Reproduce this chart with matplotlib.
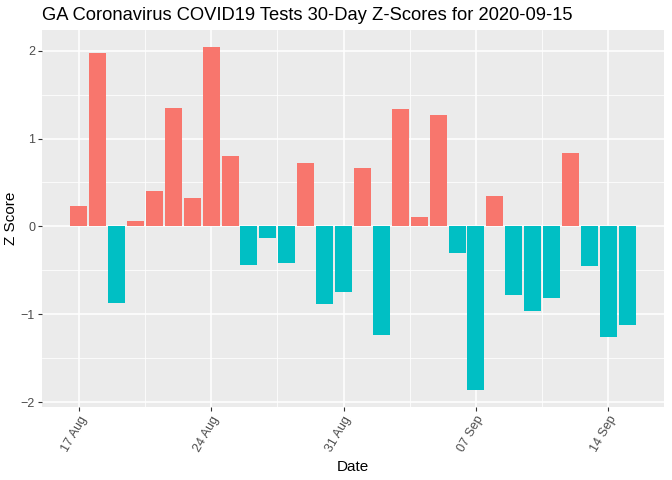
import numpy as np
import pandas as pd
import matplotlib
matplotlib.use("Agg")
import matplotlib.pyplot as plt
import matplotlib.dates as mdates

plt.rcParams['font.family'] = ['Liberation Sans', 'DejaVu Sans']

dates = pd.date_range("2020-08-17", "2020-09-15", freq="D")
zscores = [0.23, 1.97, -0.87, 0.06, 0.40, 1.35, 0.32, 2.04, 0.80, -0.44,
           -0.13, -0.42, 0.72, -0.88, -0.75, 0.66, -1.23, 1.34, 0.11, 1.27,
           -0.30, -1.86, 0.35, -0.78, -0.96, -0.82, 0.84, -0.45, -1.26, -1.12]
tick_dates = pd.to_datetime(["2020-08-17", "2020-08-24", "2020-08-31",
                             "2020-09-07", "2020-09-14"])
title = "GA Coronavirus COVID19 Tests 30-Day Z-Scores for 2020-09-15"

colors = ["#F8766D" if z > 0 else "#00BFC4" for z in zscores]

fig = plt.figure(figsize=(6.72, 4.8), dpi=100)
ax = fig.add_axes([42 / 672, 1 - 407 / 480, (664 - 42) / 672, (407 - 30) / 480])
ax.set_facecolor("#EBEBEB")

x = mdates.date2num(dates)
ax.bar(x, zscores, width=0.9, color=colors, zorder=3)

xt = mdates.date2num(tick_dates)
ax.set_xticks(xt)
ax.set_xticklabels([d.strftime("%d %b") for d in tick_dates], rotation=60,
                   ha="right", va="top", rotation_mode="anchor")
ax.set_xticks(list(xt[:-1] + 3.5), minor=True)
ax.set_yticks([-2, -1, 0, 1, 2])
ax.set_yticks([-1.5, -0.5, 0.5, 1.5], minor=True)

# limits with ggplot-like expansion
lo, hi = x[0] - 0.45, x[-1] + 0.45
pad = 0.05 * (hi - lo)
ax.set_xlim(lo - pad, hi + pad)
ymin, ymax = min(zscores), max(zscores)
ypad = 0.05 * (ymax - ymin)
ax.set_ylim(ymin - ypad, ymax + ypad)

ax.grid(which="major", color="white", linewidth=1.1, zorder=0)
ax.grid(which="minor", color="white", linewidth=0.55, zorder=0)
ax.set_axisbelow(True)
for s in ax.spines.values():
    s.set_visible(False)
ax.tick_params(which="major", length=3, color="#333333", labelcolor="#4D4D4D",
               labelsize=9, width=0.8, pad=2)
ax.tick_params(which="minor", length=0)

ax.set_xlabel("Date", fontsize=11, labelpad=4)
ax.set_ylabel("Z Score", fontsize=11)
ax.yaxis.set_label_coords(-24 / 622, 0.5)
fig.text(42 / 672, 1 - 16 / 480, title, fontsize=13.2, va="center", ha="left")

fig.savefig("out.png", dpi=100)
